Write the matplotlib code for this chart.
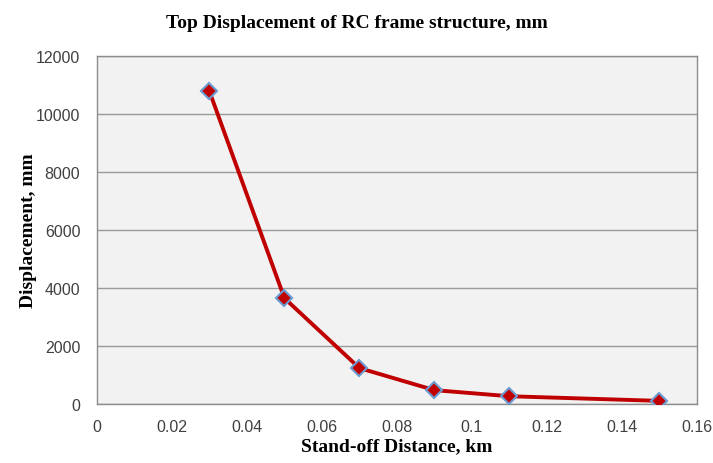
import matplotlib
matplotlib.use('Agg')
import matplotlib.pyplot as plt

# data
distance_km = [0.03, 0.05, 0.07, 0.09, 0.11, 0.15]
displacement_mm = [10780, 3650, 1240, 480, 270, 110]
x_ticks = [0, 0.02, 0.04, 0.06, 0.08, 0.1, 0.12, 0.14, 0.16]
x_tick_labels = ['0', '0.02', '0.04', '0.06', '0.08', '0.1', '0.12', '0.14', '0.16']
y_ticks = [0, 2000, 4000, 6000, 8000, 10000, 12000]

fig = plt.figure(figsize=(7.13, 4.64), dpi=100)
ax = fig.add_axes([0.136, 0.127, 0.8415, 0.750])
ax.set_facecolor('#f2f2f2')

ax.plot(distance_km, displacement_mm, color='#c00000', lw=2.8, marker='D', ms=8,
        mfc='#c00000', mec='#6a9bd1', mew=1.5, zorder=3)

ax.set_xlim(0, 0.16); ax.set_ylim(0, 12000)
ax.set_xticks(x_ticks); ax.set_xticklabels(x_tick_labels)
ax.set_yticks(y_ticks)
ax.yaxis.grid(True, color='#9a9a9a', lw=1)
ax.set_axisbelow(True)
for s in ax.spines.values():
    s.set_color('#8c8c8c'); s.set_linewidth(1)
ax.tick_params(length=0, labelsize=11.5, labelcolor='#404040')
ax.tick_params(axis='x', pad=11)
ax.tick_params(axis='y', pad=12)
for lab in ax.get_xticklabels() + ax.get_yticklabels():
    lab.set_family('Liberation Sans')

serif = 'Liberation Serif'
fig.text(0.5, 0.950, 'Top Displacement of RC frame structure, mm', ha='center', va='center',
         family=serif, fontweight='bold', fontsize=14)
ax.set_xlabel('Stand-off Distance, km', family=serif, fontweight='bold', fontsize=14, labelpad=2)
ax.set_ylabel('Displacement, mm', family=serif, fontweight='bold', fontsize=14)
ax.yaxis.set_label_coords(-0.1, 0.5)

fig.savefig('out.png', dpi=100)
